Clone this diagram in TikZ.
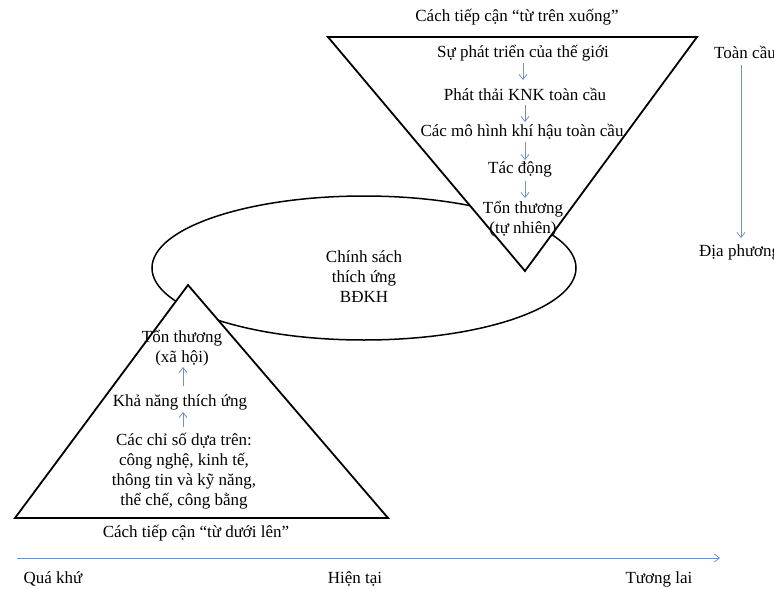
\documentclass[tikz,border=0pt]{standalone}
\usepackage{fontspec}
\setmainfont{Liberation Serif}
\usetikzlibrary{arrows.meta}
\definecolor{flowblue}{RGB}{110,145,200}
\tikzset{
  lbl/.style={font=\fontsize{17}{20}\selectfont, inner sep=0pt, align=center},
  flow/.style={draw=flowblue, line width=0.8pt, -{Straight Barb[length=5pt,width=8pt]}},
  tri/.style={draw=black, line width=1.8pt, fill=white, line join=miter},
}
\begin{document}
\begin{tikzpicture}[x=1pt,y=-1pt]
\useasboundingbox (0,0) rectangle (774,589);

% policy ellipse, drawn first so the triangles cover it
\draw[line width=1.5pt] (364,268) ellipse [x radius=212, y radius=72];
\node[lbl] (policy) at (364,277) {Chính sách\\thích ứng\\BĐKH};

% top-down approach
\draw[tri] (328,37) -- (697,37) -- (525,271) -- cycle;
\node[lbl] (topdown) at (517,17) {Cách tiếp cận “từ trên xuống”};
\node[lbl] (world) at (523,53) {Sự phát triển của thế giới};
\node[lbl] (ghg) at (525,94) {Phát thải KNK toàn cầu};
\node[lbl] (gcm) at (522,132) {Các mô hình khí hậu toàn cầu};
\node[lbl] (impact) at (520,169) {Tác động};
\node[lbl] (natvuln) at (523,219) {Tổn thương\\(tự nhiên)};
\coordinate (a1s) at (523,63);  \coordinate (a1e) at (523,80);
\coordinate (a2s) at (525,105); \coordinate (a2e) at (525,122);
\coordinate (a3s) at (525,142); \coordinate (a3e) at (525,160);
\coordinate (a4s) at (525,181); \coordinate (a4e) at (525,198);
\draw[flow] (a1s) -- (a1e);
\draw[flow] (a2s) -- (a2e);
\draw[flow] (a3s) -- (a3e);
\draw[flow] (a4s) -- (a4e);

% bottom-up approach
\draw[tri] (188,285) -- (388,518) -- (15,518) -- cycle;
\node[lbl] (bottomup) at (196,533) {Cách tiếp cận “từ dưới lên”};
\node[lbl] (socvuln) at (182,348) {Tổn thương\\(xã hội)};
\node[lbl] (capacity) at (180,402) {Khả năng thích ứng};
\node[lbl] (indic) at (184,471) {Các chỉ số dựa trên:\\công nghệ, kinh tế,\\thông tin và kỹ năng,\\thể chế, công bằng};
\coordinate (b1s) at (183,386); \coordinate (b1e) at (183,367);
\coordinate (b2s) at (183,427); \coordinate (b2e) at (183,412);
\draw[flow] (b1s) -- (b1e);
\draw[flow] (b2s) -- (b2e);

% spatial scale
\node[lbl, anchor=west] (global) at (714,52) {Toàn cầu};
\node[lbl, anchor=west] (local) at (699,252) {Địa phương};
\coordinate (gtop) at (741,65);
\coordinate (gbot) at (741,238);
\draw[flow] (gtop) -- (gbot);

% time axis
\coordinate (tstart) at (17,558);
\coordinate (tend) at (720,558);
\draw[flow] (tstart) -- (tend);
\node[lbl] (past) at (53,579) {Quá khứ};
\node[lbl] (now) at (355,579) {Hiện tại};
\node[lbl] (future) at (659,579) {Tương lai};
\end{tikzpicture}
\end{document}
